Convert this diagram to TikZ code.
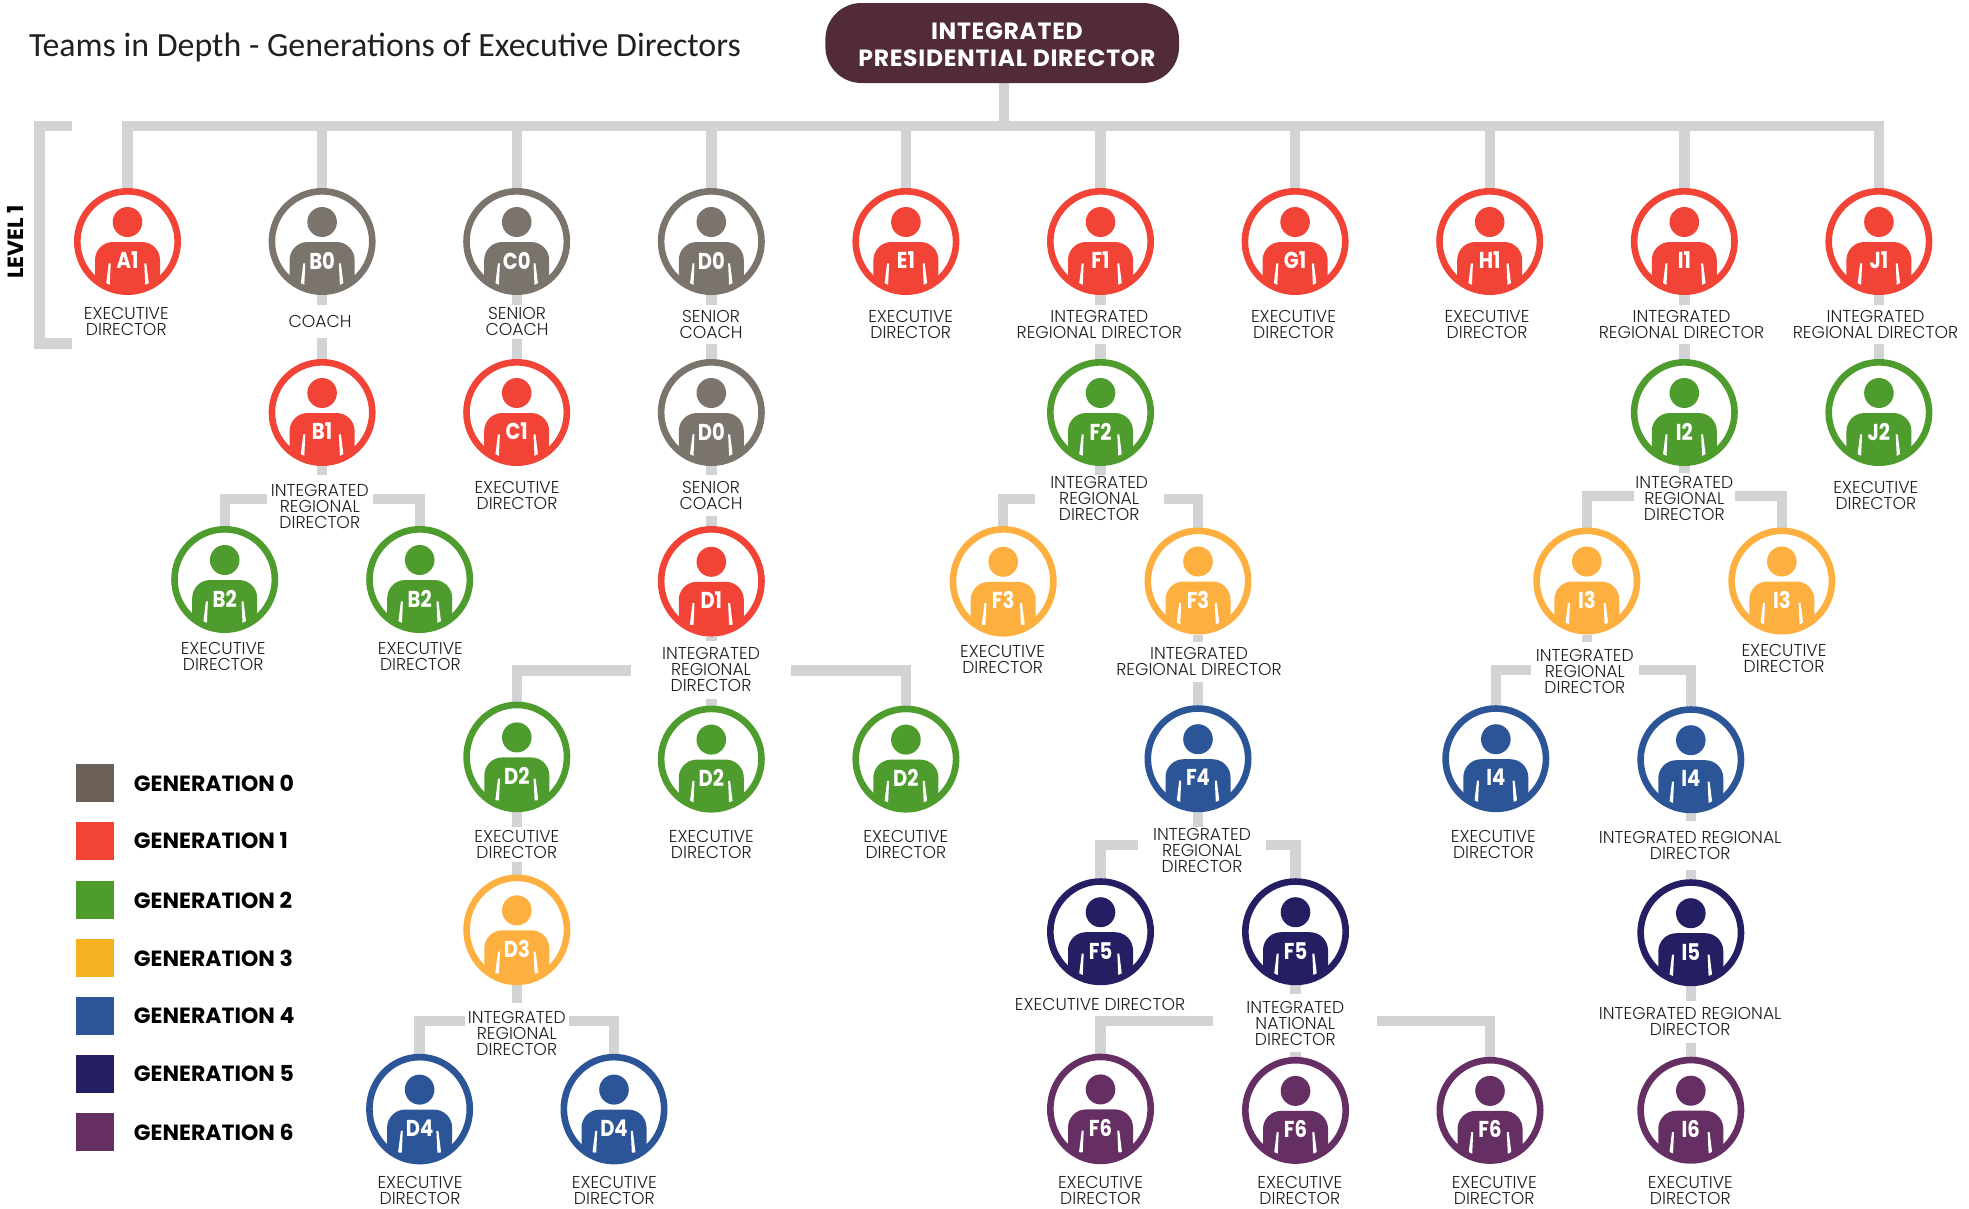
\documentclass[tikz,border=0pt]{standalone}
\usepackage{fontspec}
\usepackage{xcolor}
\usepackage{tikz}
\usetikzlibrary{positioning}
\usetikzlibrary{shapes.geometric}
\usetikzlibrary{backgrounds}
\setmainfont{Carlito}
\newfontfamily\rolefont{Poppins Light}
\newfontfamily\headfont[LetterSpace=3]{Poppins}
\newfontfamily\badgefont[FakeStretch=0.85]{Poppins}
\newfontfamily\keyfont{Poppins}
\definecolor{genzero}{HTML}{7A746C}
\definecolor{genone}{HTML}{F14437}
\definecolor{gentwo}{HTML}{4F9C2E}
\definecolor{genthree}{HTML}{FDB040}
\definecolor{genfour}{HTML}{2B5597}
\definecolor{genfive}{HTML}{241F62}
\definecolor{gensix}{HTML}{662F63}
\definecolor{keyzero}{HTML}{6A6055}
\definecolor{keythree}{HTML}{F5B120}
\definecolor{linkgray}{HTML}{D1D3D4}
\definecolor{topfill}{HTML}{512B39}
\definecolor{ink}{HTML}{231F20}
\tikzset{
  person/.style={ellipse,draw=#1,fill=white,line width=6.6pt,outer sep=3.3pt,inner sep=0pt,
    minimum width=100.4pt,minimum height=100.4pt,
    path picture={
      \begin{scope}[shift={(path picture bounding box.center)}]
        \fill[#1] (0,-19.5) ellipse [x radius=14.8pt,y radius=15pt];
        \fill[#1,rounded corners=18pt] (-32.5,60) -- (-32.5,0.5) -- (32.5,0.5) -- (32.5,60) -- cycle;
        \fill[white] (-16.8,21.8) -- (-18.8,21.8) -- (-21.5,43.5) -- (-17.8,43.5) -- cycle;
        \fill[white] (16.8,21.8) -- (18.8,21.8) -- (21.5,43.5) -- (17.8,43.5) -- cycle;
      \end{scope}
    }},
  tall/.style={minimum height=104pt},
  badge/.style={text=white,font=\badgefont\bfseries\fontsize{23}{23}\selectfont},
  rolelabel/.style={fill=white,text=ink,align=center,inner xsep=4pt,inner ysep=3pt,yshift=-0.3pt,
    font=\rolefont\fontsize{17.2}{16}\selectfont},
  link/.style={color=linkgray,line width=10.4pt},
  swatch/.style={minimum width=38pt,minimum height=38pt},
  keylabel/.style={text=black,font=\keyfont\bfseries\fontsize{22}{22}\selectfont}
}
\newcommand{\person}[5][]{%
  \node (#2) [person=#4,#1,#3] {};
  \node (#2t) [badge] at ([yshift=-19pt]#2.center) {#5};
}
\begin{document}
\begin{tikzpicture}[x=1pt,y=-1pt,node distance=87.6pt,every node/.style={inner sep=0pt,outer sep=0pt}]
\useasboundingbox (0,0) rectangle (1969,1208);

\node (title) [anchor=west,text=ink,font=\fontsize{33.9}{34}\selectfont] at (29,47.5) {Teams in Depth - Generations of Executive Directors};
\node (top) [fill=topfill,rounded corners=36pt,minimum width=353.6pt,minimum height=80pt,text=white,align=center,
  font=\headfont\bfseries\fontsize{23.5}{27}\selectfont] at (1002.2,43) {\rule{0pt}{21pt}\hspace*{9.4pt}INTEGRATED\\\hspace*{9.4pt}PRESIDENTIAL DIRECTOR};
\coordinate (bus) at (1004,125.7);
\node (level) [rotate=90,text=black,font=\keyfont\bfseries\fontsize{22}{22}\selectfont] at (15.5,241.7) {LEVEL 1};

% first row
\person{a1}{at={(127.5,241.5)}}{genone}{A1}
\person{b0}{right= of a1}{genzero}{B0}
\person{c0}{right= of b0}{genzero}{C0}
\person{d0}{right= of c0}{genzero}{D0}
\person{e1}{right= of d0}{genone}{E1}
\person{f1}{right= of e1}{genone}{F1}
\person{g1}{right= of f1}{genone}{G1}
\person{h1}{right= of g1}{genone}{H1}
\person{i1}{right= of h1}{genone}{I1}
\person{j1}{right= of i1}{genone}{J1}

% branch b, c
\person{b1}{below=64pt of b0}{genone}{B1}
\person{c1}{below=64pt of c0}{genone}{C1}
\person{b2a}{below=60pt of b1,xshift=-97.4pt}{gentwo}{B2}
\person{b2b}{below=60pt of b1,xshift=97.6pt}{gentwo}{B2}

% branch d
\person{d0s}{below=64pt of d0}{genzero}{D0}
\person[tall]{d1}{below=60pt of d0s}{genone}{D1}
\person[tall]{d2a}{below=65pt of d1,xshift=-194.5pt}{gentwo}{D2}
\person{d2b}{below=69pt of d1}{gentwo}{D2}
\person{d2c}{below=69pt of d1,xshift=194.6pt}{gentwo}{D2}
\person[tall]{d3}{below=62.3pt of d2a}{genthree}{D3}
\person[tall]{d4a}{below=68.7pt of d3,xshift=-97.2pt}{genfour}{D4}
\person[tall]{d4b}{below=68.7pt of d3,xshift=97.2pt}{genfour}{D4}

% branch f
\person{f2}{below=64pt of f1}{gentwo}{F2}
\person[tall]{f3a}{below=60pt of f2,xshift=-97.3pt}{genthree}{F3}
\person{f3b}{below=61.5pt of f2,xshift=97.5pt}{genthree}{F3}
\person{f4}{below=70.7pt of f3b}{genfour}{F4}
\person{f5a}{below=66pt of f4,xshift=-97.5pt}{genfive}{F5}
\person{f5b}{below=66pt of f4,xshift=97.5pt}{genfive}{F5}
\person[tall]{f6a}{below=68.4pt of f5a}{gensix}{F6}
\person{f6b}{below=71.7pt of f5b}{gensix}{F6}
\person{f6c}{below=71.7pt of f5b,xshift=194.5pt}{gensix}{F6}

% branch i, j
\person{i2}{below=64pt of i1}{gentwo}{I2}
\person{j2}{below=64pt of j1}{gentwo}{J2}
\person{i3a}{below=61.5pt of i2,xshift=-97.5pt}{genthree}{I3}
\person{i3b}{below=61.5pt of i2,xshift=97.5pt}{genthree}{I3}
\person{i4a}{below=70.7pt of i3a,xshift=-91pt}{genfour}{I4}
\person{i4b}{below=71.7pt of i3a,xshift=104pt}{genfour}{I4}
\person{i5}{below=66pt of i4b}{genfive}{I5}
\person{i6}{below=70.5pt of i5}{gensix}{I6}

% labels
\node (a1l) [rolelabel,below=9.3pt of a1,xshift=-1.2pt] {EXECUTIVE\\DIRECTOR};
\node (b0l) [rolelabel,inner ysep=10.5pt,below=9.5pt of b0,xshift=-2pt] {COACH};
\node (c0l) [rolelabel,below=9.3pt of c0,xshift=0.3pt] {SENIOR\\COACH};
\node (d0l) [rolelabel,inner ysep=5pt,below=10pt of d0,xshift=-0.3pt] {SENIOR\\COACH};
\node (e1l) [rolelabel,below=12pt of e1,xshift=4.8pt] {EXECUTIVE\\DIRECTOR};
\node (f1l) [rolelabel,inner ysep=5pt,below=10pt of f1,xshift=-1.1pt] {INTEGRATED\\REGIONAL DIRECTOR};
\node (g1l) [rolelabel,below=12pt of g1,xshift=-1.6pt] {EXECUTIVE\\DIRECTOR};
\node (h1l) [rolelabel,below=12pt of h1,xshift=-2.7pt] {EXECUTIVE\\DIRECTOR};
\node (i1l) [rolelabel,inner ysep=5pt,below=10pt of i1,xshift=-2.8pt] {INTEGRATED\\REGIONAL DIRECTOR};
\node (j1l) [rolelabel,inner ysep=5pt,below=10pt of j1,xshift=-3.4pt] {INTEGRATED\\REGIONAL DIRECTOR};
\node (b1l) [rolelabel,inner ysep=8.6pt,below=9pt of b1,xshift=-2.3pt] {INTEGRATED\\REGIONAL\\DIRECTOR};
\node (c1l) [rolelabel,below=12pt of c1,xshift=0.3pt] {EXECUTIVE\\DIRECTOR};
\node (d0sl) [rolelabel,inner ysep=6pt,below=9pt of d0s,xshift=-0.3pt] {SENIOR\\COACH};
\node (f2l) [rolelabel,inner xsep=15.5pt,inner ysep=1.3pt,below=9pt of f2,xshift=-1.3pt] {INTEGRATED\\REGIONAL\\DIRECTOR};
\node (i2l) [rolelabel,inner xsep=1.5pt,below=6.6pt of i2] {INTEGRATED\\REGIONAL\\DIRECTOR};
\node (j2l) [rolelabel,below=12pt of j2,xshift=-3pt] {EXECUTIVE\\DIRECTOR};
\node (b2al) [rolelabel,below=5.6pt of b2a,xshift=-1.5pt] {EXECUTIVE\\DIRECTOR};
\node (b2bl) [rolelabel,below=5.6pt of b2b,xshift=0.7pt] {EXECUTIVE\\DIRECTOR};
\node (d1l) [rolelabel,inner xsep=31pt,inner ysep=6.7pt,below=4pt of d1,xshift=-0.3pt] {INTEGRATED\\REGIONAL\\DIRECTOR};
\node (f3al) [rolelabel,below=5pt of f3a,xshift=-0.6pt] {EXECUTIVE\\DIRECTOR};
\node (f3bl) [rolelabel,inner ysep=5.6pt,below=7.4pt of f3b,xshift=1pt] {INTEGRATED\\REGIONAL DIRECTOR};
\node (i3al) [rolelabel,inner xsep=5pt,inner ysep=8.3pt,below=6.7pt of i3a,xshift=-2pt] {INTEGRATED\\REGIONAL\\DIRECTOR};
\node (i3bl) [rolelabel,below=6.7pt of i3b,xshift=2.2pt] {EXECUTIVE\\DIRECTOR};
\node (d2al) [rolelabel,inner ysep=3.3pt,below=14.3pt of d2a] {EXECUTIVE\\DIRECTOR};
\node (d2bl) [rolelabel,below=14.3pt of d2b] {EXECUTIVE\\DIRECTOR};
\node (d2cl) [rolelabel,below=14.3pt of d2c] {EXECUTIVE\\DIRECTOR};
\node (f4l) [rolelabel,inner xsep=15.5pt,inner ysep=1.7pt,below=14.3pt of f4,xshift=4pt] {INTEGRATED\\REGIONAL\\DIRECTOR};
\node (i4al) [rolelabel,below=14.6pt of i4a,xshift=-2.4pt] {EXECUTIVE\\DIRECTOR};
\node (i4bl) [rolelabel,inner ysep=10.7pt,below=7.3pt of i4b,xshift=-0.6pt] {INTEGRATED REGIONAL\\DIRECTOR};
\node (d3l) [rolelabel,inner xsep=3pt,inner ysep=8.3pt,below=17.7pt of d3] {INTEGRATED\\REGIONAL\\DIRECTOR};
\node (f5al) [rolelabel,below=9.4pt of f5a,xshift=-0.4pt] {EXECUTIVE DIRECTOR};
\node (f5bl) [rolelabel,inner xsep=33pt,inner ysep=7pt,below=8.7pt of f5b,xshift=-0.2pt] {INTEGRATED\\NATIONAL\\DIRECTOR};
\node (i5l) [rolelabel,inner ysep=7pt,below=14.3pt of i5,xshift=-0.6pt] {INTEGRATED REGIONAL\\DIRECTOR};
\node (d4al) [rolelabel,below=8.7pt of d4a,xshift=0.4pt] {EXECUTIVE\\DIRECTOR};
\node (d4bl) [rolelabel,below=8.7pt of d4b,xshift=0.3pt] {EXECUTIVE\\DIRECTOR};
\node (f6al) [rolelabel,below=9.3pt of f6a] {EXECUTIVE\\DIRECTOR};
\node (f6bl) [rolelabel,below=9.3pt of f6b,xshift=4.3pt] {EXECUTIVE\\DIRECTOR};
\node (f6cl) [rolelabel,below=9.3pt of f6c,xshift=4.2pt] {EXECUTIVE\\DIRECTOR};
\node (i6l) [rolelabel,below=9pt of i6,xshift=-0.5pt] {EXECUTIVE\\DIRECTOR};

% generation key
\node (k0) [swatch,fill=keyzero] at (94.9,783) {};
\node (k1) [swatch,fill=genone,below=20pt of k0] {};
\node (k2) [swatch,fill=gentwo,below=21pt of k1] {};
\node (k3) [swatch,fill=keythree,below=20pt of k2] {};
\node (k4) [swatch,fill=genfour,below=20pt of k3] {};
\node (k5) [swatch,fill=genfive,below=20pt of k4] {};
\node (k6) [swatch,fill=gensix,below=20pt of k5] {};
\node (k0t) [keylabel,right=20pt of k0] {GENERATION 0};
\node (k1t) [keylabel,right=20pt of k1] {GENERATION 1};
\node (k2t) [keylabel,right=20pt of k2] {GENERATION 2};
\node (k3t) [keylabel,right=20pt of k3] {GENERATION 3};
\node (k4t) [keylabel,right=20pt of k4] {GENERATION 4};
\node (k5t) [keylabel,right=20pt of k5] {GENERATION 5};
\node (k6t) [keylabel,right=20pt of k6] {GENERATION 6};

\begin{pgfonlayer}{background}
\draw[link] (71.6,125.7) -- (39.5,125.7) -- (39.5,343.5) -- (71.6,343.5);
\draw[link] (bus) -- (bus |- top.south);
\draw[link] (a1) |- (bus);
\draw[link] (b0) |- (bus);
\draw[link] (c0) |- (bus);
\draw[link] (d0) |- (bus);
\draw[link] (e1) |- (bus);
\draw[link] (f1) |- (bus);
\draw[link] (g1) |- (bus);
\draw[link] (h1) |- (bus);
\draw[link] (i1) |- (bus);
\draw[link] (j1) |- (bus);
\path[link]
        (b0) edge (b1)
        (c0) edge (c1)
        (d0) edge (d0s)
        (d0s) edge (d1)
        (d1) edge (d2b)
        (d2a) edge (d3)
        (f1) edge (f2)
        (f3b) edge (f4)
        (f5b) edge (f6b)
        (i1) edge (i2)
        (j1) edge (j2)
        (i4b) edge (i5)
        (i5) edge (i6)
        (b1) edge (b1 |- b1l.north)
        (f2) edge (f2 |- f2l.north)
        (i2) edge (i2 |- i2l.north)
        (i3a) edge (i3a |- i3al.north)
        (f4) edge (f4 |- f4l.north)
        (d3) edge (d3 |- d3l.north);
\draw[link] ([yshift=-23.5pt]b1l.north west) -| (b2a);
\draw[link] ([yshift=-23.5pt]b1l.north east) -| (b2b);
\draw[link] ([yshift=-29.7pt]d1l.north west) -| (d2a);
\draw[link] ([yshift=-29.7pt]d1l.north east) -| (d2c);
\draw[link] ([yshift=-18pt]d3l.north west) -| (d4a);
\draw[link] ([yshift=-18pt]d3l.north east) -| (d4b);
\draw[link] ([yshift=-23.5pt]f2l.north west) -| (f3a);
\draw[link] ([yshift=-23.5pt]f2l.north east) -| (f3b);
\draw[link] ([yshift=-18pt]f4l.north west) -| (f5a);
\draw[link] ([yshift=-18pt]f4l.north east) -| (f5b);
\draw[link] ([yshift=-27pt]f5bl.north west) -| (f6a);
\draw[link] ([yshift=-27pt]f5bl.north east) -| (f6c);
\draw[link] ([yshift=-22.9pt]i2l.north west) -| (i3a);
\draw[link] ([yshift=-22.9pt]i2l.north east) -| (i3b);
\draw[link] ([yshift=-28.7pt]i3al.north west) -| (i4a);
\draw[link] ([yshift=-28.7pt]i3al.north east) -| (i4b);
\end{pgfonlayer}
\end{tikzpicture}
\end{document}
